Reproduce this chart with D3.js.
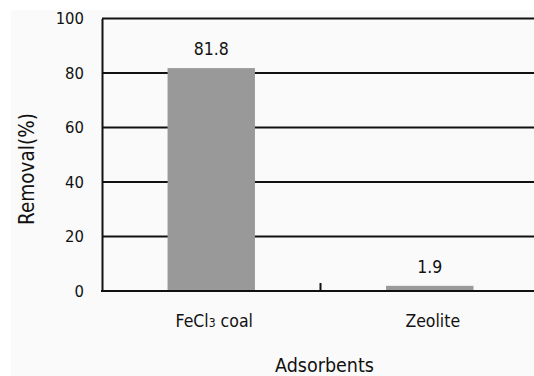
<!DOCTYPE html>
<html>
<head>
<meta charset="utf-8">
<script src="https://cdn.jsdelivr.net/npm/d3@7"></script>
<style>
  html, body { margin: 0; padding: 0; background: #ffffff; }
  svg { display: block; }
  text { font-family: "DejaVu Sans Condensed", "DejaVu Sans", sans-serif; font-stretch: condensed; fill: #111; }
</style>
</head>
<body>
<svg id="chart" width="534" height="376"></svg>
<script>
// Removal efficiency by adsorbent
const categories = ["FeCl3 coal", "Zeolite"];
const removal = [81.8, 1.9];
const yTicks = [0, 20, 40, 60, 80, 100];

const W = 534, H = 376;
const margin = { left: 102, top: 18.5, bottom: 85 };
const plotRight = 539;

const svg = d3.select("#chart");

// faint backdrop panel
svg.append("rect")
  .attr("x", 11).attr("y", 10)
  .attr("width", W - 11).attr("height", H - 10)
  .attr("fill", "#fafafa");

const x = d3.scaleBand()
  .domain(categories)
  .range([margin.left, plotRight])
  .paddingInner(0).paddingOuter(0);

const y = d3.scaleLinear()
  .domain([0, 100])
  .range([H - margin.bottom, margin.top]);

// horizontal gridlines
svg.append("g")
  .selectAll("line")
  .data(yTicks.filter(t => t > 0))
  .join("line")
  .attr("x1", margin.left).attr("x2", W)
  .attr("y1", d => y(d)).attr("y2", d => y(d))
  .attr("stroke", "#111").attr("stroke-width", 2);

// bars
const barW = x.bandwidth() * 0.4;
svg.append("g")
  .selectAll("rect")
  .data(categories.map((c, i) => ({ c, v: removal[i] })))
  .join("rect")
  .attr("x", d => x(d.c) + (x.bandwidth() - barW) / 2)
  .attr("y", d => y(d.v))
  .attr("width", barW)
  .attr("height", d => y(0) - y(d.v))
  .attr("fill", "#999999");

// value labels
svg.append("g")
  .selectAll("text")
  .data(categories.map((c, i) => ({ c, v: removal[i] })))
  .join("text")
  .attr("x", d => x(d.c) + x.bandwidth() / 2)
  .attr("y", d => y(d.v) - 13)
  .attr("text-anchor", "middle")
  .attr("font-size", 17.5)
  .text(d => d.v.toFixed(1));

// y axis
const yAxis = d3.axisLeft(y).tickValues(yTicks).tickSize(0).tickPadding(18);
const gy = svg.append("g")
  .attr("transform", `translate(${margin.left},0)`)
  .call(yAxis);
gy.select(".domain").attr("stroke", "#111").attr("stroke-width", 2);
gy.selectAll("text")
  .attr("font-size", 16.5)
  .attr("font-family", null)
  .attr("fill", "#111");

// x axis baseline with inner separator tick
const gx = svg.append("g")
  .attr("transform", `translate(0,${y(0)})`);
gx.append("line")
  .attr("x1", margin.left - 1).attr("x2", W)
  .attr("y1", 0).attr("y2", 0)
  .attr("stroke", "#111").attr("stroke-width", 2);
gx.append("line")
  .attr("x1", x(categories[1])).attr("x2", x(categories[1]))
  .attr("y1", 0).attr("y2", -8)
  .attr("stroke", "#111").attr("stroke-width", 2);

// category labels (subscript 3 in FeCl3)
const catLabels = svg.append("g")
  .selectAll("text")
  .data(categories)
  .join("text")
  .attr("x", d => x(d) + x.bandwidth() / 2 + 3)
  .attr("y", 327)
  .attr("text-anchor", "middle")
  .attr("font-size", 17.5);
catLabels.each(function(d) {
  const t = d3.select(this);
  const m = d.match(/^(.*?)(\d)(.*)$/);
  if (m) {
    t.append("tspan").text(m[1]);
    t.append("tspan").attr("font-size", 12).text(m[2]);
    t.append("tspan").text(m[3]);
  } else {
    t.text(d);
  }
});

// axis titles
svg.append("text")
  .attr("x", 324.5).attr("y", 372)
  .attr("text-anchor", "middle")
  .attr("font-size", 19.5)
  .text("Adsorbents");

svg.append("text")
  .attr("transform", `translate(34,169) rotate(-90)`)
  .attr("text-anchor", "middle")
  .attr("font-size", 20.5)
  .text("Removal(%)");
</script>
</body>
</html>
